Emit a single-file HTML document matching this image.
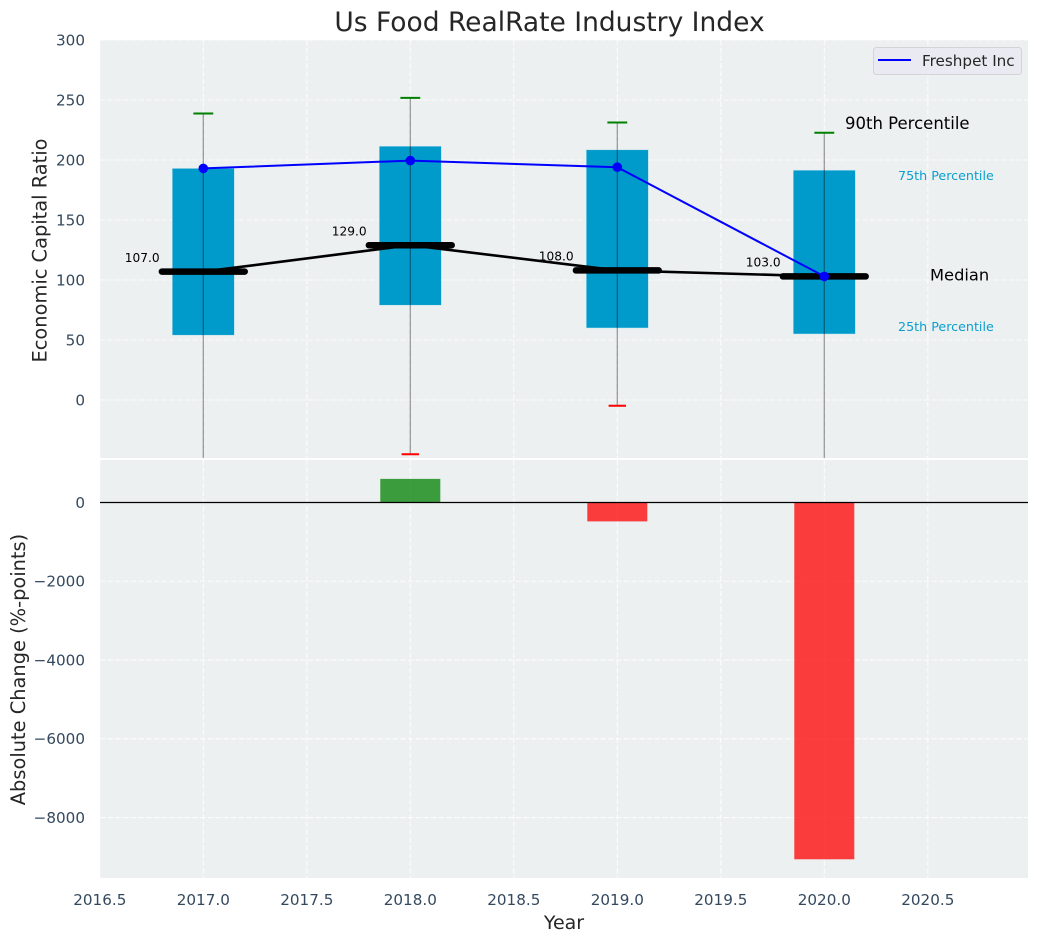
<!DOCTYPE html>
<html>
<head>
<meta charset="utf-8">
<title>Us Food RealRate Industry Index</title>
<style>
html,body{margin:0;padding:0;background:#fff;width:1039px;height:942px;overflow:hidden}
svg{display:block;font-family:"DejaVu Sans","Liberation Sans",sans-serif}
</style>
</head>
<body>
<svg id="chart" xmlns="http://www.w3.org/2000/svg" width="1039" height="942" viewBox="0 0 1039 942">
  <defs>
    <clipPath id="clip-top"><rect x="100" y="40" width="928" height="418"></rect></clipPath>
    <clipPath id="clip-bottom"><rect x="100" y="460" width="928" height="418"></rect></clipPath>
  </defs>
  <rect x="100" y="40" width="928" height="418" fill="#ecf0f1"></rect>
  <rect x="100" y="460" width="928" height="418" fill="#ecf0f1"></rect>
  <g id="grid"></g>
  <g id="top-marks" clip-path="url(#clip-top)"></g>
  <g id="bottom-marks" clip-path="url(#clip-bottom)"></g>
  <g id="labels"></g>
  <text x="549.5" y="31" text-anchor="middle" font-size="26.5" fill="#262626">Us Food RealRate Industry Index</text>
  <text transform="translate(46.5 250.5) rotate(-90)" text-anchor="middle" font-size="19.4" fill="#262626">Economic Capital Ratio</text>
  <text transform="translate(25 669.5) rotate(-90)" text-anchor="middle" font-size="19.4" fill="#262626">Absolute Change (%-points)</text>
  <text x="564" y="929" text-anchor="middle" font-size="19" fill="#262626">Year</text>
  <g>
    <rect x="873.5" y="47.5" width="148" height="27" rx="3" fill="#eaeaf2" stroke="#d3d3d8"></rect>
    <line x1="878" y1="60" x2="911" y2="60" stroke="#0000ff" stroke-width="2"></line>
    <text x="922" y="66" font-size="15.2" fill="#262626">Freshpet Inc</text>
  </g>
</svg>
<script>
const years = [2017, 2018, 2019, 2020];
const p90 = [239, 252, 231.5, 223];
const p75 = [193, 211.5, 208.5, 191.5];
const median = [107, 129, 108, 103];
const p25 = [54, 79, 60, 55];
const p10 = [-120, -45.5, -5, -120];
const freshpet = [193, 199.5, 194, 103];
const changeYears = [2018, 2019, 2020];
const changes = [600, -480, -9060];
const xTicks = [2016.5, 2017, 2017.5, 2018, 2018.5, 2019, 2019.5, 2020, 2020.5];
const topTicks = [0, 50, 100, 150, 200, 250, 300];
const bottomTicks = [0, -2000, -4000, -6000, -8000];

const X = v => 203.3 + (v - 2017) * 207;
const Y = v => 400 - v * 1.2;
const Z = v => 502.5 - v * 0.03938;

const NS = 'http://www.w3.org/2000/svg';
function make(tag, parent, attrs, text) {
  const el = document.createElementNS(NS, tag);
  for (const k in attrs) el.setAttribute(k, attrs[k]);
  if (text !== undefined) el.textContent = text;
  parent.appendChild(el);
  return el;
}
const grid = document.getElementById('grid');
const topG = document.getElementById('top-marks');
const botG = document.getElementById('bottom-marks');
const lab = document.getElementById('labels');
const minus = s => String(s).replace('-', '\u2212');
const tickColor = '#34495e';
const gridStyle = {stroke: '#ffffff', 'stroke-width': 1.1, 'stroke-dasharray': '5.5 2.2', opacity: 0.8};

// grid lines and ticks
xTicks.forEach(t => {
  [[40, 458], [460, 878]].forEach(r => {
    const g = make('line', grid, Object.assign({x1: X(t), x2: X(t), y1: r[0], y2: r[1]}, gridStyle));
    
    
  });
  const l = make('text', lab, {x: X(t), y: 905, 'text-anchor': 'middle', 'font-size': 15.2, fill: tickColor}, t.toFixed(1));
  
  
});
topTicks.forEach(t => {
  const g = make('line', grid, Object.assign({x1: 100, x2: 1028, y1: Y(t), y2: Y(t)}, gridStyle));
  
  
  const l = make('text', lab, {x: 85, y: Y(t) + 5.4, 'text-anchor': 'end', 'font-size': 15.2, fill: tickColor}, minus(t));
  
  
});
bottomTicks.forEach(t => {
  const g = make('line', grid, Object.assign({x1: 100, x2: 1028, y1: Z(t), y2: Z(t)}, gridStyle));
  
  
  const l = make('text', lab, {x: 85, y: Z(t) + 5.4, 'text-anchor': 'end', 'font-size': 15.2, fill: tickColor}, minus(t));
  
  
});

// percentile boxes
years.forEach((yr, i) => {
  const r = make('rect', topG, {x: X(yr - 0.15), width: X(yr + 0.15) - X(yr - 0.15), y: Y(p75[i]), height: Y(p25[i]) - Y(p75[i]), fill: '#019bcb', stroke: '#c5e3ee', 'stroke-width': 0.5});
  
  
});
// whiskers and caps
years.forEach((yr, i) => {
  const w = make('line', topG, {x1: X(yr), x2: X(yr), y1: Y(p90[i]), y2: Y(p10[i]), stroke: '#000000', 'stroke-opacity': 0.38, 'stroke-width': 1.3});
  
  
  const hi = make('line', topG, {x1: X(yr - 0.048), x2: X(yr + 0.048), y1: Y(p90[i]) + 0.3, y2: Y(p90[i]) + 0.3, stroke: '#008000', 'stroke-width': 2});
  
  
  const lo = make('line', topG, {x1: X(yr - 0.042), x2: X(yr + 0.042), y1: Y(p10[i]) - 0.3, y2: Y(p10[i]) - 0.3, stroke: '#ff0000', 'stroke-width': 2});
  
  
});
// median connecting line
const medLine = make('polyline', topG, {points: years.map((yr, i) => X(yr) + ',' + Y(median[i])).join(' '), fill: 'none', stroke: '#000000', 'stroke-width': 2.6});


// median bars and labels
years.forEach((yr, i) => {
  const m = make('line', topG, {x1: X(yr - 0.2), x2: X(yr + 0.2), y1: Y(median[i]), y2: Y(median[i]), stroke: '#000000', 'stroke-width': 6.5, 'stroke-linecap': 'round'});
  
  
  const t = make('text', lab, {x: X(yr) - 78.5, y: Y(median[i]) - 9.8, 'font-size': 12.2, fill: '#000000'}, median[i].toFixed(1));
  
  
});
// company line and points
const fp = make('polyline', topG, {points: years.map((yr, i) => X(yr) + ',' + Y(freshpet[i])).join(' '), fill: 'none', stroke: '#0000ff', 'stroke-width': 2});


years.forEach((yr, i) => {
  const c = make('circle', topG, {cx: X(yr), cy: Y(freshpet[i]), r: 4.8, fill: '#0000ff'});
  
  
});
// percentile annotations, tied to the last year
const last = years.length - 1;
const a90 = make('text', lab, {x: 845, y: Y(p90[last]) - 3.4, 'font-size': 16.5, fill: '#000000'}, '90th Percentile');


const a75 = make('text', lab, {x: 898, y: Y(p75[last]) + 10, 'font-size': 12.7, fill: '#0a9fcf'}, '75th Percentile');


const a50 = make('text', lab, {x: 930, y: Y(median[last]) + 4.2, 'font-size': 16.3, fill: '#000000'}, 'Median');


const a25 = make('text', lab, {x: 898, y: Y(p25[last]) - 2.8, 'font-size': 12.7, fill: '#0a9fcf'}, '25th Percentile');



// change bars
changeYears.forEach((yr, i) => {
  const v = changes[i];
  const b = make('rect', botG, {x: X(yr - 0.145), width: X(yr + 0.145) - X(yr - 0.145), y: Math.min(Z(v), Z(0)), height: Math.abs(Z(v) - Z(0)), fill: v >= 0 ? '#008000' : '#ff0000', 'fill-opacity': 0.75});
  
  
});
const zero = make('line', botG, {x1: 100, x2: 1028, y1: Z(0), y2: Z(0), stroke: '#000000', 'stroke-width': 1.3});


</script>
</body>
</html>
